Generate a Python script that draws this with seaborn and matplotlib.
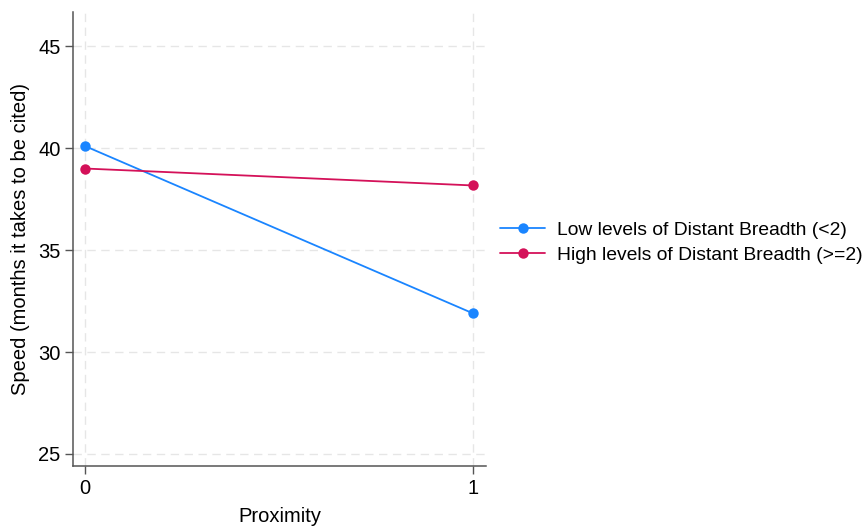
import matplotlib
matplotlib.use("Agg")
import matplotlib.pyplot as plt
import seaborn as sns
import pandas as pd

proximity = [0, 1]
low_breadth = [40.1, 31.9]
high_breadth = [39.0, 38.17]
series_names = ["Low levels of Distant Breadth (<2)", "High levels of Distant Breadth (>=2)"]
colors = ["#1A85FF", "#D41159"]

df = pd.DataFrame({
    "Proximity": proximity * 2,
    "Speed": low_breadth + high_breadth,
    "Group": [series_names[0]] * 2 + [series_names[1]] * 2,
})

sns.set_theme(style="white")
plt.rcParams["font.family"] = ["Liberation Sans", "DejaVu Sans"]
plt.rcParams["text.color"] = "black"

fig = plt.figure(figsize=(8.66, 5.27), dpi=100)
ax = fig.add_axes([0.0843, 0.1157, 0.4769, 0.8613])

sns.lineplot(data=df, x="Proximity", y="Speed", hue="Group", palette=colors,
             marker="o", markersize=7.5, markeredgewidth=0, linewidth=1.3, ax=ax)

ax.set_xlim(-0.031, 1.034)
ax.set_ylim(24.41, 46.67)
ax.set_xticks([0, 1])
ax.set_yticks([25, 30, 35, 40, 45])
ax.tick_params(axis="both", which="both", direction="out", length=6, width=1,
               color="#555555", labelcolor="black", labelsize=14.5,
               bottom=True, left=True, pad=3)
ax.grid(True, linestyle=(0, (6, 4)), color="#e6e6e6", linewidth=1)
for s in ["top", "right"]:
    ax.spines[s].set_visible(False)
for s in ["left", "bottom"]:
    ax.spines[s].set_color("#555555")
    ax.spines[s].set_linewidth(1.1)
ax.set_xlabel("Proximity", fontsize=14.5, labelpad=6.5, color="black")
ax.set_ylabel("Speed (months it takes to be cited)", fontsize=14.5, labelpad=6, color="black")

leg = ax.legend(loc="center left", bbox_to_anchor=(1.034, 0.492), frameon=False,
                fontsize=13.9, handlelength=2.34, handletextpad=0.63, labelspacing=0.36,
                borderaxespad=0, borderpad=0)

fig.savefig("out.png", dpi=100)
